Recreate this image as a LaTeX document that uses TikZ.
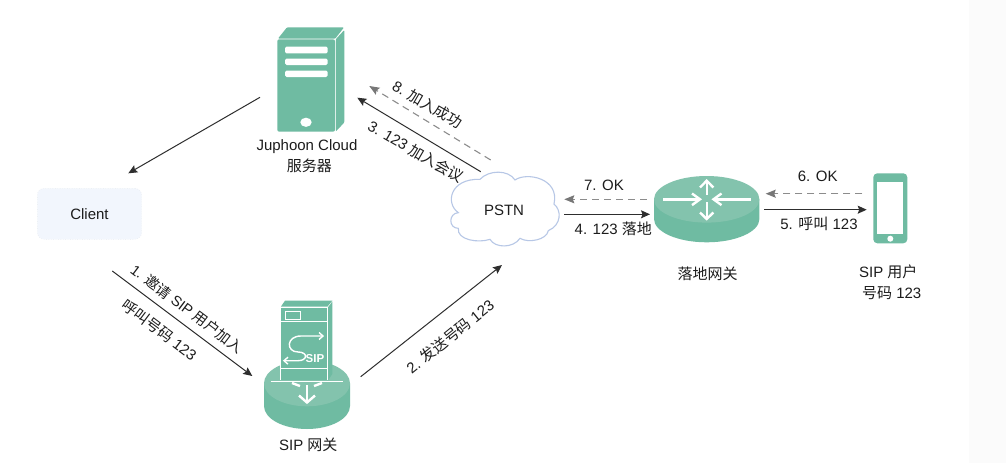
\documentclass[tikz,border=0pt]{standalone}
\usepackage{fontspec}
\setmainfont{Liberation Sans}
\newfontfamily\cjkfam{Noto Sans CJK SC}
\newcommand{\zh}[1]{{\cjkfam #1}}
\usetikzlibrary{arrows.meta}
\definecolor{teal}{HTML}{6FBBA2}
\definecolor{teallight}{HTML}{83C3AD}
\definecolor{inkc}{HTML}{1C1C1C}
\definecolor{linec}{HTML}{2E2E2E}
\definecolor{dashc}{HTML}{8C8C8C}
\definecolor{dashtip}{HTML}{777777}
\definecolor{cloudc}{HTML}{B7C7E6}
\definecolor{clientfill}{HTML}{F2F6FD}
\definecolor{clientedge}{HTML}{E0E4EA}
\tikzset{
  txt/.style={font=\fontsize{15}{17}\selectfont,text=inkc,inner sep=0pt,align=center},
  solidarrow/.style={draw=linec,line width=1pt,-{Stealth[length=9pt,width=8pt,inset=1.5pt,color=linec,fill=linec]}},
  dasharrow/.style={draw=dashc,line width=1.1pt,dash pattern=on 7pt off 5pt,-{Stealth[length=10pt,width=8pt,inset=1.5pt,color=dashtip,fill=dashtip]}},
  wl/.style={draw=white,line width=1.1pt},
  wa/.style={draw=white,line width=2.4pt,line join=miter},
}
\begin{document}
\begin{tikzpicture}[x=1pt,y=-1pt]
\useasboundingbox (0,0) rectangle (1006,463);
\fill[white] (0,0) rectangle (1006,463);
\fill[black!1.5] (969,0) rectangle (1006,463);

% Server
\fill[teal,rounded corners=2pt] (277.3,39.3) -- (335,39.3) -- (335,131.7) -- (277.3,131.7) -- cycle;
\fill[teal,rounded corners=1pt] (278,38.6) -- (287,27.3) -- (344,27.3) -- (335.3,38.6) -- cycle;
\fill[teal,rounded corners=1pt] (335.8,39.2) -- (344.3,30) -- (344.3,122.5) -- (335.8,131.5) -- cycle;
\fill[white,rounded corners=1.5pt] (285,46.7) rectangle (327.7,53.3);
\fill[white,rounded corners=1.5pt] (285,58.7) rectangle (327.7,65);
\fill[white,rounded corners=1.5pt] (285,70.7) rectangle (327.7,77);
\fill[white] (306,122.3) ellipse [x radius=5.7,y radius=4.6];
\node[txt] (server) at (307,147) {Juphoon Cloud};
\node[txt] (serverb) at (309.3,165.7) {\zh{服务器}};

% Client
\node[txt,draw=clientedge,dotted,fill=clientfill,rounded corners=7pt,minimum width=104.4pt,minimum height=51pt] (client) at (89.5,213.8) {Client};

% SIP gateway
\fill[teal] (264,383.3) -- (264,406) arc[start angle=180,end angle=360,x radius=43,y radius=-23] -- (350,383.3) -- cycle;
\fill[teallight] (307,383.3) ellipse [x radius=43,y radius=23];
\fill[teal] (280.7,307.3) rectangle (327.3,380);
\fill[teal] (281,306.5) -- (285,300.7) -- (332.3,300.7) -- (327.5,306.5) -- cycle;
\fill[teal] (328.2,307) -- (332.3,301.5) -- (332.3,374) -- (328.2,380) -- cycle;
\draw[wl] (280.7,380) -- (280.7,307.3) -- (327.3,307.3) -- (327.3,380);
\draw[wl] (280.7,321.7) -- (327.3,321.7);
\draw[wl] (280.7,368.3) -- (327.3,368.3);
\draw[wl,line width=1.5pt] (270.7,381.7) -- (342.7,381.7);
\draw[wl] (285.7,311.5) rectangle (300.3,319.3);
\draw[wl,line width=1.4pt] (322.5,336) -- (301,336) .. controls (286,336) and (286,352) .. (298,352) .. controls (308,352) and (308,360.7) .. (298,360.7) -- (285,360.7);
\draw[wl,line width=1.4pt] (319,332.5) -- (323,336) -- (319,339.5);
\draw[wl,line width=1.4pt] (288,357.2) -- (284,360.7) -- (288,364.2);
\node[font=\fontsize{11.5}{13}\selectfont\bfseries,text=white,inner sep=0pt] (siptxt) at (315,358.3) {SIP};
\draw[wa] (307,385) -- (307,401);
\draw[wa] (299,395.5) -- (307,402.5) -- (315,395.5);
\draw[wa] (292,383) -- (300,386);
\draw[wa] (322,383) -- (314,386);
\node[txt] (sipgw) at (308.3,445) {SIP \zh{网关}};

% Cloud
\begin{scope}[shift={(430,160)},x=0.3333pt,y=-0.3333pt]
\draw[draw=cloudc,line width=1.1pt,fill=white] (150,58)
 .. controls (175,30) and (235,28) .. (255,60)
 .. controls (290,35) and (390,55) .. (372,132)
 .. controls (395,150) and (395,195) .. (355,212)
 .. controls (350,240) and (295,250) .. (270,235)
 .. controls (250,265) and (195,265) .. (180,238)
 .. controls (145,250) and (80,240) .. (85,205)
 .. controls (55,205) and (55,160) .. (85,158)
 .. controls (45,130) and (60,55) .. (150,58) -- cycle;
\end{scope}
\node[txt] (pstn) at (504,210) {PSTN};

% Router
\fill[teal] (654,199.3) -- (654,219) arc[start angle=180,end angle=360,x radius=52.7,y radius=-23.3] -- (759.4,199.3) -- cycle;
\fill[teallight] (706.7,199.3) ellipse [x radius=52.7,y radius=23.3];
\draw[wa] (663,199.3) -- (698,199.3);
\draw[wa] (692,193.5) -- (700,199.3) -- (692,205.1);
\draw[wa] (750.5,199.3) -- (715.5,199.3);
\draw[wa] (721.5,193.5) -- (713.5,199.3) -- (721.5,205.1);
\draw[wa] (706.7,195) -- (706.7,182);
\draw[wa] (700,187.5) -- (706.7,180.7) -- (713.4,187.5);
\draw[wa] (706.7,202) -- (706.7,217.5);
\draw[wa] (700,212.5) -- (706.7,219) -- (713.4,212.5);
\node[txt] (router) at (707.7,273.3) {\zh{落地网关}};

% Phone
\fill[teal,rounded corners=4pt] (873.3,173.3) rectangle (907.3,243.3);
\fill[white] (877.3,181.7) rectangle (903.3,234);
\fill[white] (890.3,238.7) circle (3);
\node[txt] (phone) at (888.3,271.7) {SIP \zh{用户}};
\node[txt] (phoneb) at (891.7,292.7) {\zh{号码} 123};

% connector ends
\coordinate (serverout) at (260,97.3);
\coordinate (clientin) at (128.3,173.3);
\coordinate (clientout) at (112.3,271);
\coordinate (sipin) at (252.3,376);
\coordinate (sipout) at (360.7,376.7);
\coordinate (pstnin) at (502,265);
\coordinate (pstnup) at (480.7,171.7);
\coordinate (serverin) at (357.3,97.7);
\coordinate (pstnupb) at (490.7,160);
\coordinate (serverinb) at (369.3,86);
\coordinate (pstnr) at (564,214.3);
\coordinate (routerl) at (650,214.3);
\coordinate (routerlb) at (646.7,199.3);
\coordinate (pstnrb) at (564.3,199.3);
\coordinate (routerr) at (764.3,209.7);
\coordinate (phonel) at (866.7,209.7);
\coordinate (phonelb) at (862.3,193.7);
\coordinate (routerrb) at (765.7,193.7);

\draw[solidarrow] (serverout) -- (clientin);
\draw[solidarrow] (clientout) -- (sipin);
\draw[solidarrow] (sipout) -- (pstnin);
\draw[solidarrow] (pstnup) -- (serverin);
\draw[dasharrow] (pstnupb) -- (serverinb);
\draw[solidarrow] (pstnr) -- (routerl);
\draw[dasharrow] (routerlb) -- (pstnrb);
\draw[solidarrow] (routerr) -- (phonel);
\draw[dasharrow] (phonelb) -- (routerrb);

% labels
\node[txt,rotate=-30] (l8) at (427.7,104.3) {8. \zh{加入成功}};
\node[txt,rotate=-30] (l3) at (416,151.5) {3. 123 \zh{加入会议}};
\node[txt,rotate=-37,font=\fontsize{14.5}{17}\selectfont] (l1a) at (187,308.5) {1. \zh{邀请} SIP \zh{用户加入}};
\node[txt,rotate=-37] (l1b) at (159.3,330) {\zh{呼叫号码} 123};
\node[txt,rotate=39] (l2) at (450,336.7) {2. \zh{发送号码} 123};
\node[txt] (l6) at (817.7,176) {6. OK};
\node[txt] (l5) at (819,224) {5. \zh{呼叫} 123};
\node[txt] (l7) at (604,185.3) {7. OK};
\node[txt] (l4) at (613.3,229) {4. 123 \zh{落地}};
\end{tikzpicture}
\end{document}
